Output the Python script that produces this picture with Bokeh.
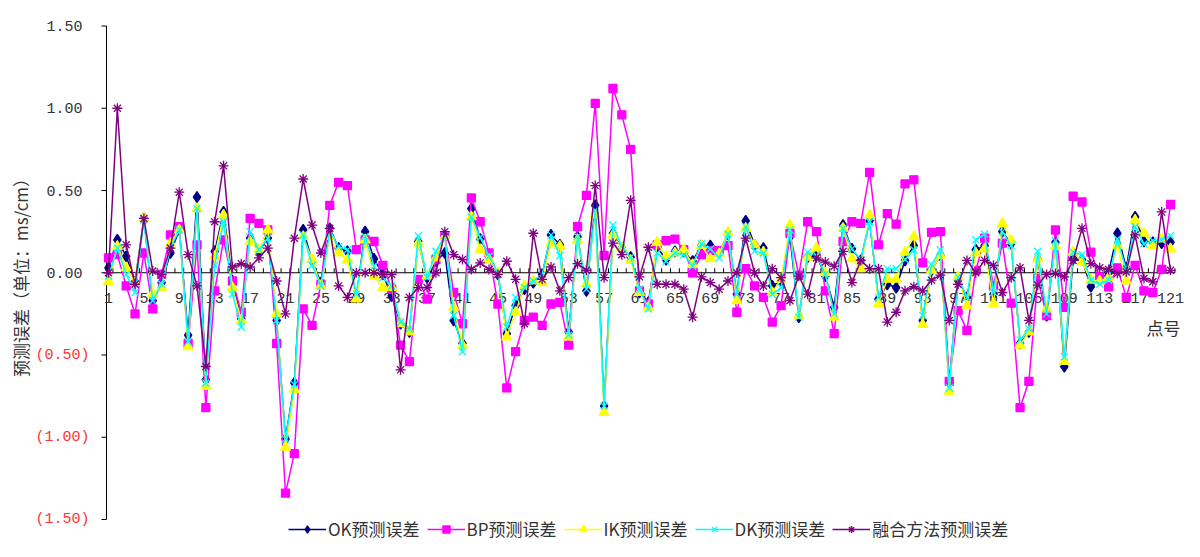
import math
from bokeh.plotting import figure
from bokeh.models import Range1d, Legend, LegendItem
from bokeh.core.properties import value
from bokeh.embed import file_html
from bokeh.resources import INLINE

points = list(range(1, 122))

ok_err = [0.03, 0.20, 0.10, -0.055, 0.33, -0.17, -0.06, 0.12, 0.26, -0.38,
          0.46, -0.65, 0.13, 0.37, -0.05, -0.28, 0.21, 0.13, 0.21, -0.29,
          -1.01, -0.67, 0.26, 0.075, -0.06, 0.27, 0.15, 0.13, -0.15, 0.25,
          0.085, -0.01, -0.14, -0.31, -0.36, 0.19, -0.03, 0.07, 0.12, -0.29,
          -0.43, 0.39, 0.205, 0.11, -0.01, -0.37, -0.20, -0.10, -0.06, -0.01,
          0.23, 0.17, -0.36, 0.22, -0.11, 0.41, -0.81, 0.24, 0.15, 0.095,
          -0.12, -0.18, 0.155, 0.08, 0.13, 0.13, 0.07, 0.165, 0.165, 0.125,
          0.235, -0.13, 0.315, 0.17, 0.15, -0.08, -0.05, 0.22, -0.27, 0.095,
          0.105, -0.02, -0.21, 0.29, 0.145, 0.075, 0.315, -0.16, -0.07, -0.09,
          0.075, 0.165, -0.29, 0.015, 0.105, -0.67, -0.045, -0.15, 0.14, 0.165,
          -0.13, 0.25, 0.175, -0.43, -0.36, 0.085, -0.26, 0.185, -0.57, 0.085,
          0.08, -0.085, -0.04, 0.0, 0.24, 0.03, 0.34, 0.19, 0.185, 0.18,
          0.185]

bp_err = [0.09, 0.11, -0.08, -0.25, 0.12, -0.22, -0.01, 0.23, 0.28, -0.43,
          0.17, -0.82, -0.11, 0.20, -0.05, -0.24, 0.33, 0.30, 0.26, -0.43,
          -1.34, -1.10, -0.22, -0.32, -0.07, 0.41, 0.55, 0.53, 0.14, 0.20,
          0.19, 0.045, -0.10, -0.44, -0.54, -0.04, -0.16, 0.08, 0.225, -0.12,
          -0.31, 0.455, 0.31, 0.12, -0.19, -0.70, -0.48, -0.29, -0.27, -0.32,
          -0.19, -0.18, -0.44, 0.28, 0.47, 1.03, 0.105, 1.12, 0.96, 0.75,
          -0.11, -0.19, 0.17, 0.195, 0.205, 0.14, 0.0, 0.11, 0.135, 0.135,
          0.165, -0.24, 0.025, -0.08, -0.15, -0.30, -0.20, 0.24, -0.015, 0.31,
          0.25, -0.11, -0.37, 0.19, 0.31, 0.30, 0.61, 0.17, 0.36, 0.295,
          0.54, 0.565, 0.06, 0.245, 0.25, -0.66, -0.23, -0.35, 0.015, 0.21,
          -0.08, 0.18, -0.185, -0.82, -0.66, -0.035, -0.26, 0.26, -0.21, 0.465,
          0.43, 0.125, -0.025, -0.085, 0.03, -0.15, 0.045, -0.11, -0.12, 0.02,
          0.415]

ik_err = [-0.055, 0.16, 0.03, -0.06, 0.33, -0.13, -0.09, 0.18, 0.26, -0.45,
          0.39, -0.69, 0.10, 0.35, -0.09, -0.29, 0.19, 0.14, 0.26, -0.25,
          -1.06, -0.71, 0.22, 0.08, -0.08, 0.22, 0.12, 0.08, -0.16, 0.20,
          -0.02, -0.09, -0.09, -0.31, -0.36, 0.18, -0.02, 0.09, 0.22, -0.21,
          -0.44, 0.34, 0.14, 0.08, 0.0, -0.39, -0.24, -0.08, -0.05, -0.06,
          0.18, 0.16, -0.39, 0.20, -0.07, 0.35, -0.85, 0.23, 0.15, 0.075,
          -0.12, -0.21, 0.185, 0.10, 0.12, 0.14, 0.05, 0.165, 0.085, 0.115,
          0.245, -0.17, 0.27, 0.17, 0.125, -0.12, -0.04, 0.29, -0.26, 0.095,
          0.15, 0.0, -0.27, 0.27, 0.085, 0.025, 0.35, -0.19, -0.04, -0.04,
          0.125, 0.22, -0.315, 0.015, 0.105, -0.72, -0.025, -0.20, 0.12, 0.145,
          -0.19, 0.30, 0.195, -0.44, -0.36, 0.085, -0.22, 0.16, -0.54, 0.125,
          0.065, -0.045, -0.05, -0.03, 0.165, -0.05, 0.32, 0.24, 0.165, 0.205,
          0.145]

dk_err = [-0.02, 0.15, -0.01, -0.12, 0.32, -0.17, -0.07, 0.15, 0.26, -0.42,
          0.39, -0.67, 0.045, 0.31, -0.13, -0.33, 0.25, 0.14, 0.21, -0.29,
          -1.01, -0.68, 0.23, 0.045, -0.08, 0.25, 0.16, 0.14, -0.13, 0.22,
          0.04, -0.03, -0.08, -0.30, -0.34, 0.225, -0.03, 0.13, 0.225, -0.26,
          -0.48, 0.34, 0.215, 0.10, 0.0, -0.33, -0.15, -0.09, -0.05, -0.01,
          0.23, 0.105, -0.38, 0.22, -0.10, 0.38, -0.81, 0.29, 0.16, 0.095,
          -0.10, -0.22, 0.12, 0.07, 0.12, 0.11, 0.04, 0.175, 0.145, 0.09,
          0.235, -0.13, 0.28, 0.13, 0.12, -0.13, -0.09, 0.26, -0.27, 0.125,
          0.105, -0.01, -0.25, 0.27, 0.145, 0.08, 0.31, -0.15, 0.025, 0.025,
          0.08, 0.14, -0.26, 0.05, 0.14, -0.70, -0.025, -0.15, 0.20, 0.235,
          -0.12, 0.25, 0.165, -0.41, -0.34, 0.13, -0.25, 0.195, -0.51, 0.125,
          0.11, -0.045, -0.07, -0.045, 0.205, 0.015, 0.28, 0.175, 0.195, 0.20,
          0.225]

fusion_err = [0.0, 1.00, 0.17, -0.07, 0.33, 0.01, -0.01, 0.15, 0.49, 0.11,
              -0.08, -0.57, 0.31, 0.65, 0.035, 0.055, 0.035, 0.09, 0.15, -0.05,
              -0.25, 0.21, 0.57, 0.29, 0.12, 0.27, -0.08, -0.15, 0.0, 0.0,
              0.0, -0.01, -0.01, -0.59, -0.15, -0.09, -0.09, 0.0, 0.25, 0.11,
              0.08, 0.02, 0.06, 0.02, -0.01, 0.07, -0.04, -0.31, 0.24, -0.04,
              0.035, -0.11, -0.03, 0.055, 0.015, 0.53, -0.03, 0.18, 0.11, 0.44,
              -0.025, 0.155, -0.07, -0.07, -0.07, -0.10, -0.27, -0.025, -0.06, -0.10,
              -0.05, 0.0, 0.21, 0.0, -0.08, 0.025, -0.03, -0.17, -0.02, -0.13,
              0.09, 0.065, 0.04, 0.13, -0.06, 0.075, 0.025, 0.025, -0.30, -0.24,
              -0.11, -0.085, -0.11, -0.045, -0.015, -0.29, -0.07, 0.075, 0.0, 0.075,
              0.045, -0.12, -0.03, 0.03, -0.29, -0.075, -0.01, -0.005, -0.025, 0.075,
              0.27, 0.055, 0.03, 0.02, -0.005, 0.005, 0.23, -0.035, -0.055, 0.37,
              0.015]

series_names = ["OK预测误差", "BP预测误差", "IK预测误差", "DK预测误差", "融合方法预测误差"]
x_tick_values = list(range(1, 122, 4))
x_tick_labels = [str(v) for v in x_tick_values]
y_ticks = [-1.5, -1.0, -0.5, 0.0, 0.5, 1.0, 1.5]
y_tick_labels = ["(1.50)", "(1.00)", "(0.50)", "0.00", "0.50", "1.00", "1.50"]
y_title = "预测误差（单位：ms/cm）"
x_title = "点号"

CJK = "Noto Sans CJK SC"
NUM = "Liberation Mono"
TXT = "#333333"

# ---- geometry: the whole canvas is the frame; helpers convert canvas pixels ----
W, H = 1184, 541
Y_LO, Y_HI = y_ticks[0], y_ticks[-1]
SY_TOP, SY_BOT = 25.5, 519          # canvas y of 1.5 and -1.5
SX_FIRST, SX_LAST = 108, 1170       # canvas x of first and last point
ppu_y = (SY_BOT - SY_TOP) / (Y_HI - Y_LO)
ppu_x = (SX_LAST - SX_FIRST) / (points[-1] - points[0])


def dx(sx):
    return points[0] + (sx - SX_FIRST) / ppu_x


def dy(sy):
    return Y_HI - (sy - SY_TOP) / ppu_y


p = figure(width=W, height=H, output_backend="svg", toolbar_location=None,
           x_axis_location=None, y_axis_location=None,
           x_range=Range1d(dx(0), dx(W)), y_range=Range1d(dy(H), dy(0)),
           min_border_left=0, min_border_right=0, min_border_top=0,
           min_border_bottom=0)
try:
    p.title = None
except Exception:
    p.title.visible = False
p.grid.visible = False
p.outline_line_color = None
p.background_fill_color = "white"
p.border_fill_color = "white"

# ---- value axis ----
ax_x = dx(106)
p.segment(x0=[ax_x], y0=[Y_LO], x1=[ax_x], y1=[Y_HI], line_color="black", line_width=1)
p.segment(x0=[dx(101)] * len(y_ticks), y0=y_ticks, x1=[ax_x] * len(y_ticks), y1=y_ticks,
          line_color="black", line_width=1)
p.text(x=[dx(89) if t < 0 else dx(82) for t in y_ticks], y=y_ticks,
       text=y_tick_labels, text_align="right", text_baseline="middle",
       text_color=["#FF3333" if t < 0 else TXT for t in y_ticks],
       text_font=value(NUM), text_font_size="15px")
p.text(x=[dx(20)], y=[dy(273)], text=[y_title], angle=math.pi / 2,
       text_align="center", text_baseline="middle", text_color=TXT,
       text_font=value(CJK), text_font_size="17px")

# ---- category axis crossing at zero ----
p.segment(x0=[ax_x], y0=[0], x1=[points[-1] + 0.5], y1=[0], line_color="black", line_width=1)
bounds = [v + 0.5 for v in points]
p.segment(x0=bounds, y0=[0] * len(bounds), x1=bounds, y1=[4.5 / ppu_y] * len(bounds),
          line_color="black", line_width=1)
p.text(x=x_tick_values, y=[0] * len(x_tick_values), text=x_tick_labels,
       text_align="center", text_baseline="middle", y_offset=25,
       text_font=value(NUM), text_font_size="15px", text_color=TXT)
p.text(x=[dx(1163)], y=[dy(327)], text=[x_title],
       text_align="center", text_baseline="middle", text_color=TXT,
       text_font=value(CJK), text_font_size="17px")

# ---- series ----
styles = [
    (ok_err, "#000080", "diamond", 11),
    (bp_err, "#FF00FF", "square", 8),
    (ik_err, "#FFFF00", "triangle", 10),
    (dk_err, "#00FFFF", "x", 10),
    (fusion_err, "#800080", "asterisk", 10),
]
items = []
for name, (vals, col, mk, sz) in zip(series_names, styles):
    lr = p.line(points, vals, line_color=col, line_width=1.5)
    sr = p.scatter(points, vals, marker=mk, size=sz, fill_color=col,
                   line_color=col, line_width=1.3)
    items.append(LegendItem(label=name, renderers=[lr, sr]))

legend = Legend(items=items, orientation="horizontal", location=(288, 0),
                border_line_color=None, background_fill_alpha=0,
                label_text_font=CJK, label_text_font_size="17px",
                label_text_color=TXT, glyph_width=38, glyph_height=18,
                label_standoff=2, spacing=7, padding=0, margin=0, label_height=18)
p.add_layout(legend)

open("out.html", "w").write(file_html(p, INLINE))
